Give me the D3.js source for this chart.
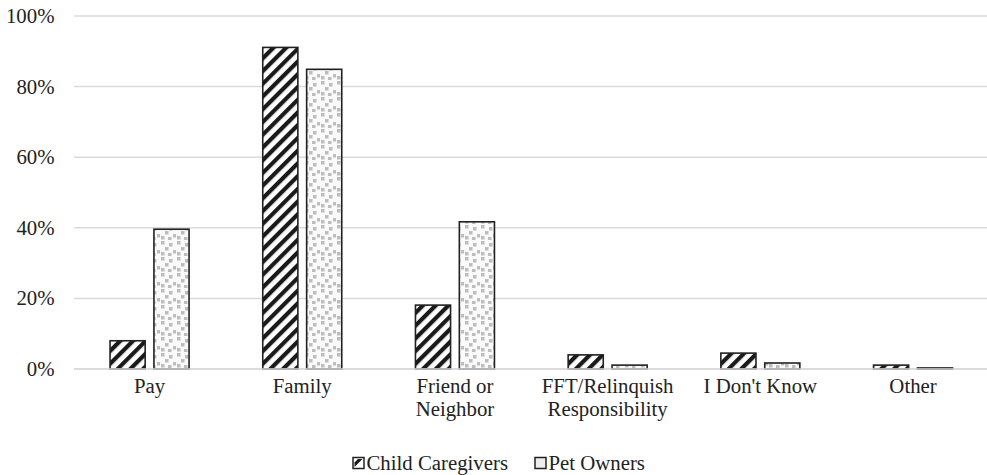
<!DOCTYPE html>
<html>
<head>
<meta charset="utf-8">
<script src="https://cdn.jsdelivr.net/npm/d3@7/dist/d3.min.js"></script>
<style>
  html, body { margin: 0; padding: 0; background: #fff; }
  svg { display: block; }
</style>
</head>
<body>
<svg id="chart" width="987" height="475"></svg>
<script>
const categories = [["Pay"], ["Family"], ["Friend or", "Neighbor"], ["FFT/Relinquish", "Responsibility"], ["I Don't Know"], ["Other"]];
const seriesNames = ["Child Caregivers", "Pet Owners"];
const childCaregivers = [0.080, 0.911, 0.181, 0.040, 0.045, 0.011];
const petOwners = [0.396, 0.849, 0.417, 0.011, 0.017, 0.003];
const yTicks = [0, 0.2, 0.4, 0.6, 0.8, 1.0];

(function () {
const FONT = '"Liberation Serif"';
const FS = 20.8;
const svg = d3.select("#chart");
const W = 987, H = 475;
const plotLeft = 73.2, plotRight = 989.4, plotTop = 16, plotBottom = 369;

const defs = svg.append("defs");
const stripe = defs.append("pattern").attr("id", "stripe").attr("patternUnits", "userSpaceOnUse")
  .attr("width", 9).attr("height", 9).attr("patternTransform", "rotate(45)");
stripe.append("rect").attr("width", 9).attr("height", 9).attr("fill", "#fff");
stripe.append("rect").attr("x", 0).attr("y", 0).attr("width", 4.2).attr("height", 9).attr("fill", "#1a1a1a");

const conf = defs.append("pattern").attr("id", "confetti").attr("patternUnits", "userSpaceOnUse")
  .attr("width", 16).attr("height", 16);
conf.append("rect").attr("width", 16).attr("height", 16).attr("fill", "#fafafa");
[[1,1],[9,3],[5,7],[13,10],[1,12],[8,13]].forEach(([x,y]) => {
  conf.append("rect").attr("x", x).attr("y", y).attr("width", 3.5).attr("height", 3.5).attr("fill", "#bdbdbd");
});

const catKeys = categories.map(c => c.join(" "));
const x0 = d3.scaleBand().domain(catKeys).range([plotLeft, plotRight]).paddingInner(0).paddingOuter(0);
const groupW = 79;
const x1 = d3.scaleBand().domain(seriesNames)
  .range([(x0.bandwidth() - groupW) / 2, (x0.bandwidth() + groupW) / 2]).paddingInner(0.2).paddingOuter(0);
const y = d3.scaleLinear().domain([0, 1]).range([plotBottom, plotTop]);

svg.append("g").selectAll("line").data(yTicks).join("line")
  .attr("x1", 74).attr("x2", W)
  .attr("y1", d => y(d)).attr("y2", d => y(d))
  .attr("stroke", "#d9d9d9").attr("stroke-width", 1.5);

svg.append("g").selectAll("text").data(yTicks).join("text")
  .attr("x", 54.5).attr("y", d => y(d) + 7)
  .attr("text-anchor", "end").attr("font-size", FS).attr("fill", "#222")
  .style("font-family", FONT)
  .text(d => d3.format(".0%")(d));

const fills = ["url(#stripe)", "url(#confetti)"];
const dataSeries = [childCaregivers, petOwners];
dataSeries.forEach((vals, si) => {
  svg.append("g").selectAll("rect").data(vals).join("rect")
    .attr("x", (d, i) => x0(catKeys[i]) + x1(seriesNames[si]))
    .attr("y", d => y(d))
    .attr("width", x1.bandwidth())
    .attr("height", d => y(0) - y(d))
    .attr("fill", fills[si])
    .attr("stroke", "#222").attr("stroke-width", 1.6);
});

svg.append("line").attr("x1", 74).attr("x2", W).attr("y1", y(0)).attr("y2", y(0))
  .attr("stroke", "#d9d9d9").attr("stroke-width", 1.5);

const cg = svg.append("g");
categories.forEach((lines, i) => {
  const cx = x0(catKeys[i]) + x0.bandwidth() / 2;
  const t = cg.append("text").attr("text-anchor", "middle").attr("font-size", FS).attr("fill", "#222")
    .style("font-family", FONT)
    .attr("x", cx).attr("y", 393);
  lines.forEach((ln, j) => {
    t.append("tspan").attr("x", cx).attr("dy", j === 0 ? 0 : 23).text(ln);
  });
});

const legend = svg.append("g");
const legItems = [{name: seriesNames[0], x: 353}, {name: seriesNames[1], x: 535}];
const l0 = legend.append("g").attr("transform", `translate(${legItems[0].x},457.5)`);
l0.append("rect").attr("width", 11).attr("height", 11).attr("fill", "#fff").attr("stroke", "#222").attr("stroke-width", 1.5);
l0.append("path").attr("d", "M1.5,9.5 L1.5,5 L5,1.5 L9.5,1.5 Z").attr("fill", "#1a1a1a");
const l1 = legend.append("g").attr("transform", `translate(${legItems[1].x},457.5)`);
l1.append("rect").attr("width", 11).attr("height", 11).attr("fill", "#eee").attr("stroke", "#222").attr("stroke-width", 1.5);
legItems.forEach(it => {
  legend.append("text").attr("x", it.x + 13.5).attr("y", 470).attr("font-size", FS).attr("fill", "#222")
    .style("font-family", FONT).text(it.name);
});
})();
</script>
</body>
</html>
